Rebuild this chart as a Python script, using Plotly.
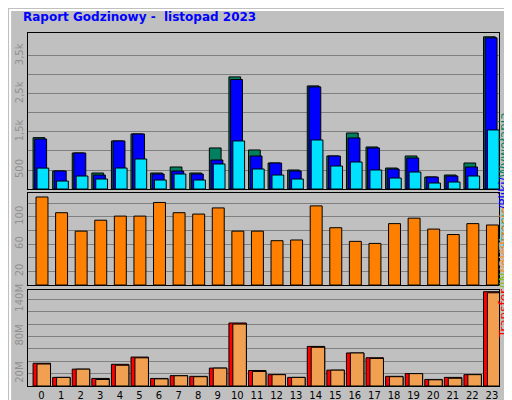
import plotly.graph_objects as go

hours = list(range(24))
hour_labels = [str(h) for h in hours]
wywolania = [1350,474,947,421,1263,1447,421,579,421,1079,2947,1026,684,500,2710,868,1473,1105,552,868,316,368,684,4000]
pliki     = [1315,474,947,368,1263,1447,395,474,395,763,2877,868,684,474,2684,868,1342,1079,526,816,316,342,579,3973]
strony    = [550,210,342,263,552,789,237,395,237,658,1263,526,368,263,1289,605,710,500,289,447,158,184,342,1552]
lokalizacje = [129,106,79,95,101,101,121,106,104,113,79,79,65,66,116,84,64,61,90,98,82,74,90,88]
transfer = [36.7,13.9,27.2,12.2,35,46.7,12.2,16.7,15.6,28.9,101.7,25,18.3,13.9,63.9,25.6,53.3,45.6,15.6,20,10.6,13.9,18.3,152.2]
out      = [35.5,13.9,27.2,10.5,33.5,45.5,11.5,16.5,15.0,28.9,100.0,23.5,18.3,13.9,62.5,25.6,53.3,44.5,15.0,20,10.0,12.5,18.3,150.5]

fig = go.Figure()
line = dict(color="black", width=1)
def bar(y, color, off, w, ya):
    fig.add_trace(go.Bar(x=hours, y=y, marker=dict(color=color, line=line),
                         offset=off, width=w, yaxis=ya, xaxis="x"))
bar(wywolania, "#00805F", -0.43, 0.6, "y")
bar(pliki, "#0000FF", -0.35, 0.61, "y")
bar(strony, "#00E0FF", -0.23, 0.6, "y")
bar(lokalizacje, "#FF8000", -0.28, 0.61, "y2")
bar(transfer, "#FF0000", -0.43, 0.89, "y3")
bar(out, "#F0A050", -0.23, 0.69, "y3")

grid = dict(showgrid=True, gridcolor="#808080", gridwidth=1, zeroline=False, automargin=False,
            showline=True, linecolor="black", mirror=True, tickangle=-90,
            tickfont=dict(family="DejaVu Sans", size=10, color="#909090"), ticks="")
xr = [-0.69, 23.36]
xcommon = dict(range=xr, showgrid=False, zeroline=False, automargin=False,
               showline=True, linecolor="black", mirror=True, ticks="")
fig.update_layout(
    width=512, height=400, barmode="overlay", showlegend=False,
    paper_bgcolor="#C0C0C0", plot_bgcolor="#C0C0C0",
    margin=dict(l=20, r=21, t=25, b=22, autoexpand=False),
    xaxis=dict(tickvals=hours, ticktext=hour_labels, anchor="y3",
               tickfont=dict(family="DejaVu Sans", size=10, color="black"), **xcommon),
    xaxis2=dict(overlaying="x", anchor="y", showticklabels=False, **xcommon),
    xaxis3=dict(overlaying="x", anchor="y2", showticklabels=False, **xcommon),
    yaxis=dict(domain=[0.558, 1], range=[0, 4100],
               tickvals=[500,1000,1500,2000,2500,3000,3500],
               ticktext=["500","","1,5k","","2,5k","","3,5k"], **grid),
    yaxis2=dict(domain=[0.286, 0.547], range=[0, 135],
                tickvals=[20,40,60,80,100,120], ticktext=["20","","60","","100",""], **grid),
    yaxis3=dict(domain=[0, 0.272], range=[0, 155],
                tickvals=[20,40,60,80,100,120,140], ticktext=["20M","","","80M","","","140M"], **grid),
)
fig.add_trace(go.Scatter(x=[None], y=[None], xaxis="x2", yaxis="y"))
fig.add_trace(go.Scatter(x=[None], y=[None], xaxis="x3", yaxis="y2"))

fig.add_annotation(text="<b>Raport Godzinowy -  listopad 2023</b>", xref="paper", yref="paper",
                   x=-0.015, y=1.045, xanchor="left", yanchor="middle", showarrow=False,
                   font=dict(family="DejaVu Sans", size=12, color="#0000FF"))
af = dict(family="DejaVu Sans", size=12)
fig.add_annotation(text='<span style="color:#00C8D8">Strony</span><span style="color:#0000FF">/Pliki/</span><span style="color:#00805F">Wywołania</span>',
                   xref="paper", yref="paper", x=1.03, y=0.78, textangle=-90, showarrow=False, font=af)
fig.add_annotation(text='<span style="color:#FF8000">Lokalizacje</span>',
                   xref="paper", yref="paper", x=1.03, y=0.415, textangle=-90, showarrow=False, font=af)
fig.add_annotation(text='<span style="color:#FF0000">Transfer</span><span style="color:#80C000">/IN</span><span style="color:#F0A050">/OUT</span>',
                   xref="paper", yref="paper", x=1.03, y=0.13, textangle=-90, showarrow=False, font=af)
# frame
fig.add_shape(type="rect", xref="paper", yref="paper", x0=-0.038, x1=1.04, y0=-0.057, y1=1.065,
              line=dict(color="white", width=2), layer="below")
fig.add_shape(type="line", xref="paper", yref="paper", x0=1.038, x1=1.038, y0=-0.057, y1=1.065,
              line=dict(color="#808080", width=4))
fig.add_shape(type="line", xref="paper", yref="paper", x0=-0.038, x1=1.04, y0=-0.055, y1=-0.055,
              line=dict(color="#808080", width=4))
fig.write_html("out.html")
